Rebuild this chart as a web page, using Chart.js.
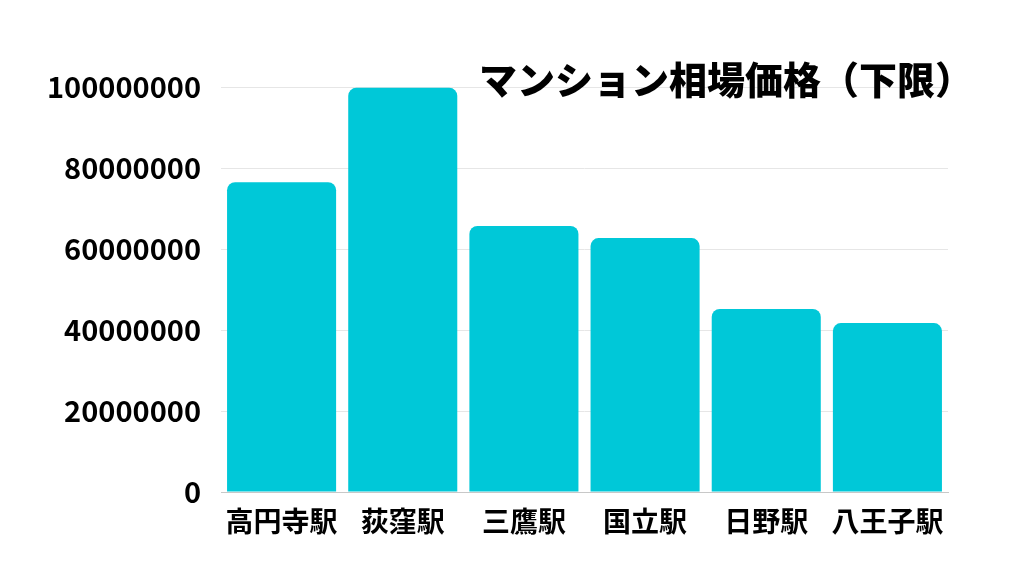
<!DOCTYPE html>
<html>
<head>
<meta charset="utf-8">
<script src="https://cdn.jsdelivr.net/npm/chart.js@4/dist/chart.umd.min.js"></script>
<style>
    html, body { margin: 0; padding: 0; background: #ffffff; }
    #wrap { width: 1024px; height: 576px; }
</style>
</head>
<body>
<div id="wrap"><canvas id="chart" width="1024" height="576"></canvas></div>
<script>
var chartTitle = "マンション相場価格（下限）";
var stations = ["高円寺駅", "荻窪駅", "三鷹駅", "国立駅", "日野駅", "八王子駅"];
var prices = [76500000, 99800000, 65700000, 62700000, 45200000, 41700000];
var yTicks = [0, 20000000, 40000000, 60000000, 80000000, 100000000];

var priceGraph = function(){
    var ctx;
    var chartData;
    var chartOptions;
    var fontFamily = "'Noto Sans CJK JP', 'Noto Sans', sans-serif";
    return {
        init: function(c){
            ctx = document.getElementById(c).getContext("2d");
            this.bindData();
            this.setOptions();
            this.drawGraph();
        },
        bindData: function(){
            chartData = {
                labels: stations,
                datasets: [
                    {
                        label: chartTitle,
                        data: prices,
                        backgroundColor: "#00c8d8",
                        borderWidth: 0,
                        borderRadius: 8,
                        barPercentage: 0.9,
                        categoryPercentage: 1.0
                    }
                ]
            };
        },
        setOptions: function(){
            chartOptions = {
                responsive: false,
                animation: false,
                layout: { padding: { top: 87, right: 76, bottom: 0, left: 0 } },
                plugins: {
                    legend: { display: false },
                    tooltip: { enabled: false }
                },
                scales: {
                    x: {
                        grid: { display: true, drawOnChartArea: false, drawTicks: false },
                        border: { display: true, color: "#c8c8c8", width: 1 },
                        ticks: {
                            color: "#000000",
                            padding: 13,
                            font: { family: fontFamily, size: 28, weight: "bold" }
                        },
                        afterFit: function(scale){ scale.height = 84; }
                    },
                    y: {
                        min: 0,
                        max: yTicks[yTicks.length - 1],
                        afterBuildTicks: function(scale){
                            scale.ticks = yTicks.map(function(v){ return { value: v }; });
                        },
                        grid: { color: "#e6e6e6", drawTicks: false },
                        border: { display: false },
                        ticks: {
                            color: "#000000",
                            padding: 20,
                            font: { family: fontFamily, size: 29, weight: "bold" },
                            callback: function(v){ return String(v); }
                        },
                        afterFit: function(scale){ scale.width = 221; }
                    }
                }
            };
        },
        drawGraph: function(){
            new Chart(ctx, {
                type: "bar",
                data: chartData,
                options: chartOptions,
                plugins: [{
                    id: "titleOverlay",
                    afterDraw: function(chart){
                        var c = chart.ctx;
                        c.save();
                        // title sits over the top of the plot, right side
                        c.font = "900 38px " + fontFamily;
                        c.fillStyle = "#000000";
                        c.textAlign = "left";
                        c.textBaseline = "middle";
                        c.fillText(chartTitle, 479, 80);
                        c.restore();
                    }
                }]
            });
        }
    }
};

priceGraph().init("chart");
</script>
</body>
</html>
